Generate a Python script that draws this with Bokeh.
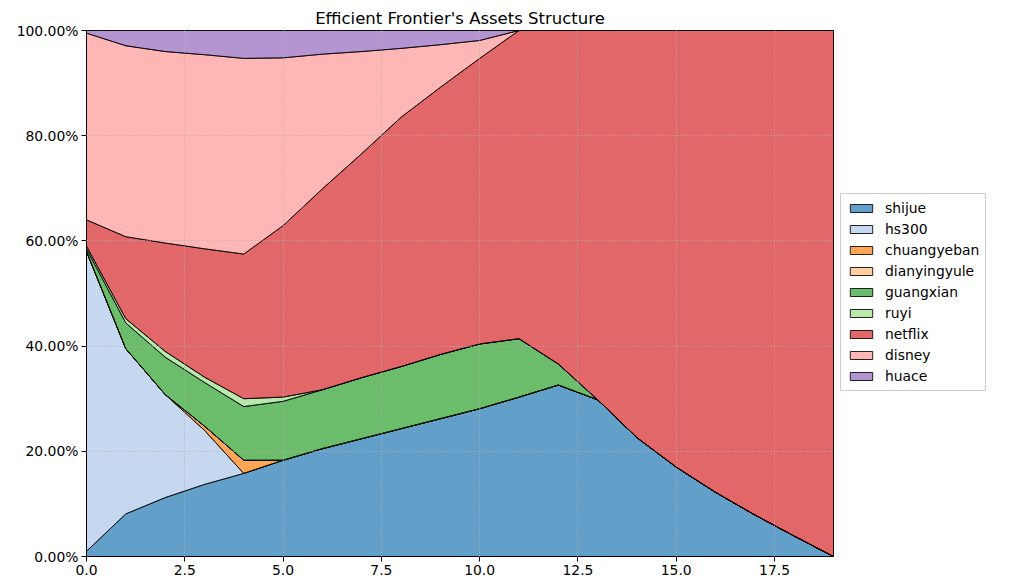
import numpy as np
from bokeh.plotting import figure
from bokeh.models import Range1d, FixedTicker, PrintfTickFormatter, Legend, LegendItem
from bokeh.embed import file_html
from bokeh.resources import INLINE

x = list(range(20))
names = ["shijue", "hs300", "chuangyeban", "dianyingyule", "guangxian", "ruyi", "netflix", "disney", "huace"]
shijue = [1.0, 8.1, 11.2, 13.7, 15.8, 18.3, 20.5, 22.4, 24.3, 26.2, 28.1, 30.3, 32.6, 29.8, 22.6, 17.0, 12.2, 7.9, 3.9, 0.0]
hs300 = [57.0, 31.4, 19.6, 10.3, 0, 0, 0, 0, 0, 0, 0, 0, 0, 0, 0, 0, 0, 0, 0, 0]
chuangyeban = [0, 0, 0, 0.8, 2.5, 0, 0, 0, 0, 0, 0, 0, 0, 0, 0, 0, 0, 0, 0, 0]
dianyingyule = [0] * 20
guangxian = [0.5, 4.9, 7.1, 8.3, 10.2, 11.2, 11.2, 11.6, 11.8, 12.2, 12.3, 11.1, 4.0, 0, 0, 0, 0, 0, 0, 0]
ruyi = [0.5, 0.8, 1.1, 1.0, 1.5, 0.8, 0, 0, 0, 0, 0, 0, 0, 0, 0, 0, 0, 0, 0, 0]
netflix = [5.0, 15.6, 20.6, 24.4, 27.5, 32.6, 38.2, 42.6, 47.4, 50.8, 54.3, 58.6, 63.4, 70.2, 77.4, 83.0, 87.8, 92.1, 96.1, 100.0]
disney = [35.5, 36.3, 36.4, 36.9, 37.2, 31.9, 25.6, 19.4, 13.1, 8.1, 3.4, 0, 0, 0, 0, 0, 0, 0, 0, 0]
huace = [0.5, 2.9, 4.0, 4.6, 5.3, 5.2, 4.5, 4.0, 3.4, 2.7, 1.9, 0, 0, 0, 0, 0, 0, 0, 0, 0]
series = [shijue, hs300, chuangyeban, dianyingyule, guangxian, ruyi, netflix, disney, huace]
colors = ["#1f77b4", "#aec7e8", "#ff7f0e", "#ffbb78", "#2ca02c", "#98df8a", "#d62728", "#ff9896", "#9467bd"]

FONT = "DejaVu Sans"

p = figure(frame_width=747, frame_height=526, output_backend="svg", toolbar_location=None,
           x_range=Range1d(0, 19), y_range=Range1d(0, 100),
           min_border_left=86, min_border_top=30, min_border_bottom=20, min_border_right=0,
           title="Efficient Frontier's Assets Structure")
p.title.align = "center"
p.title.text_font = FONT
p.title.text_font_size = "16.5px"
p.title.text_font_style = "normal"
p.title.text_color = "black"
p.title.offset = 0
p.title.standoff = 5

xs = np.array(x, dtype=float)
bottom = np.zeros(20)
items = []
for name, vals, c in zip(names, series, colors):
    top = bottom + np.array(vals, dtype=float)
    px = np.concatenate([xs, xs[::-1]])
    py = np.concatenate([top, bottom[::-1]])
    r = p.patch(px, py, fill_color=c, fill_alpha=0.7, line_color="black", line_alpha=0.85, line_width=1.0)
    items.append(LegendItem(label=name, renderers=[r]))
    bottom = top

legend = Legend(items=items, location=(7, 165), label_text_font=FONT, label_text_font_size="13.9px",
                label_text_color="black",
                glyph_width=28, glyph_height=10, label_height=12, spacing=5, padding=6, margin=0,
                border_line_color="#cccccc", border_line_alpha=1.0, background_fill_alpha=0.8,
                label_standoff=10)
p.add_layout(legend, "right")

p.xaxis.ticker = FixedTicker(ticks=[0, 2.5, 5, 7.5, 10, 12.5, 15, 17.5])
p.xaxis.formatter = PrintfTickFormatter(format="%.1f")
p.yaxis.ticker = FixedTicker(ticks=[0, 20, 40, 60, 80, 100])
p.yaxis.formatter = PrintfTickFormatter(format="%.2f%%")
for ax in (p.xaxis[0], p.yaxis[0]):
    ax.major_label_text_font = FONT
    ax.major_label_text_font_size = "13.9px"
    ax.major_label_text_color = "black"
    ax.axis_line_color = "black"
    ax.major_tick_line_color = "black"
    ax.major_tick_out = 5
    ax.major_tick_in = 0
    ax.minor_tick_line_color = None
    ax.major_label_standoff = 3

p.outline_line_color = "black"
p.outline_line_alpha = 1
for g in (p.xgrid[0], p.ygrid[0]):
    g.grid_line_color = "#b0b0b0"
    g.grid_line_dash = "1 2"
    g.grid_line_width = 1
    g.level = "overlay"

p.background_fill_color = "white"
p.border_fill_color = "white"

open("out.html", "w").write(file_html(p, INLINE))
